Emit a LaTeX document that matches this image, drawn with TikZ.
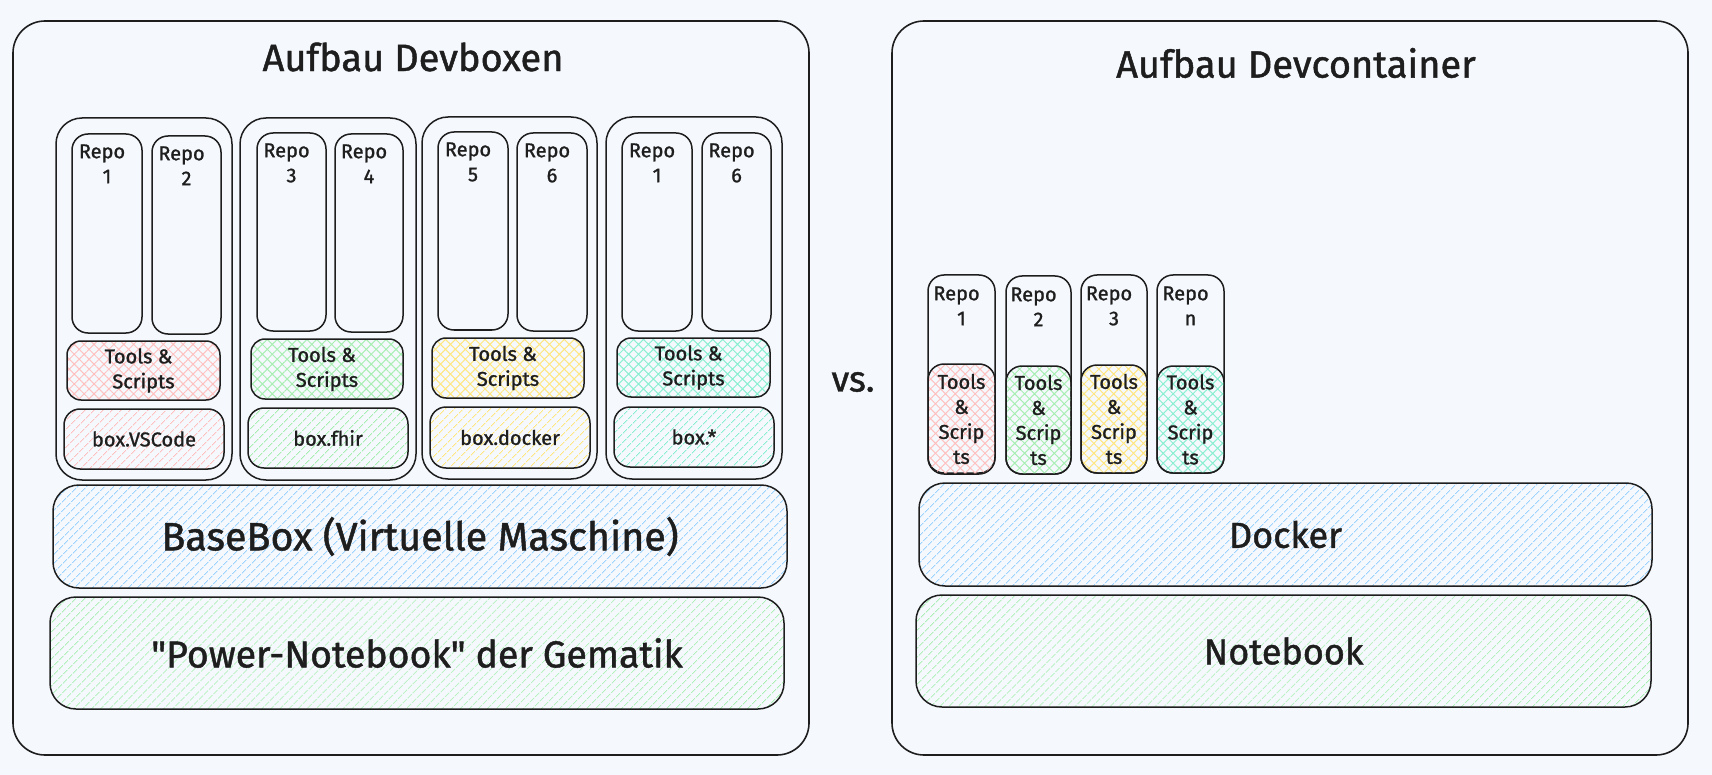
\documentclass[tikz,border=0pt]{standalone}
\usepackage{fontspec}
\setmainfont{Fira Sans}[Ligatures=TeXOff, FakeBold=1.2]
\usetikzlibrary{patterns.meta,fit,calc}
\definecolor{bgc}{HTML}{F5F9FD}
\definecolor{ink}{HTML}{1E1E1E}
\definecolor{hred}{HTML}{FFC0C0}
\definecolor{hgreen}{HTML}{A8EEB2}
\definecolor{hyellow}{HTML}{FFE680}
\definecolor{hteal}{HTML}{8AEFD0}
\definecolor{hblue}{HTML}{9DD3FF}
\tikzset{
  frame/.style={draw=ink, line width=1.6pt, inner sep=0pt, rounded corners=32pt},
  grp/.style={draw=ink, line width=1.5pt, inner sep=0pt, rounded corners=26pt},
  repo/.style={draw=ink, line width=1.5pt, inner sep=0pt, rounded corners=16pt},
  tool/.style={draw=ink, line width=1.5pt, inner sep=0pt, rounded corners=14pt,
    pattern={Hatch[angle=45,distance=7pt,line width=1pt]}, pattern color=#1},
  vbox/.style={draw=ink, line width=1.5pt, inner sep=0pt, rounded corners=16pt,
    pattern={Lines[angle=45,distance=6.5pt,line width=1pt]}, pattern color=#1},
  layer/.style={draw=ink, line width=1.5pt, inner sep=0pt, rounded corners=26pt,
    pattern={Lines[angle=45,distance=6.5pt,line width=1pt]}, pattern color=#1},
  small/.style={text=ink, font=\fontsize{20}{25}\selectfont, align=center, inner sep=0pt},
  big/.style={text=ink, font=\fontsize{#1}{44}\selectfont, inner sep=0pt},
  big/.default=36,
  ttl/.style={text=ink, font=\fontsize{38}{46}\selectfont, inner sep=0pt},
}
\begin{document}
\begin{tikzpicture}[x=1pt,y=-1pt]
\fill[bgc] (0,0) rectangle (1712,775);
\useasboundingbox (0,0) rectangle (1712,775);

% ---------- left frame ----------
\node[frame, fit={(13,21) (809,755)}] (lf) {};
\node[ttl] (lt) at (413,57) {Aufbau Devboxen};

% group 1
\node[grp, fit={(56,118) (232,480)}] (g1) {};
\node[repo, fit={(72,134) (142,333)}] (r11) {};
\node[repo, fit={(152,136) (221,334)}] (r12) {};
\node[tool=hred, fit={(67,341) (220,400)}] (s1) {};
\node[vbox=hred, fit={(64,409) (224,469)}] (b1) {};
\node[small, anchor=north] (tr11) at ($(r11.north)+(0,11)$) {Repo\hspace*{.5em}\\1};
\node[small, anchor=north] (tr12) at ($(r12.north)+(0,11)$) {Repo\hspace*{.5em}\\2};
\node[small] (ts1) at (s1.center) {Tools \&\hspace*{.5em}\\Scripts};
\node[small] (tb1) at (b1.center) {box.VSCode};

% group 2
\node[grp, fit={(240,118) (416,480)}] (g2) {};
\node[repo, fit={(257,133) (326,331)}] (r21) {};
\node[repo, fit={(335,134) (403,332)}] (r22) {};
\node[tool=hgreen, fit={(251,339) (403,399)}] (s2) {};
\node[vbox=hgreen, fit={(248,408) (408,468)}] (b2) {};
\node[small, anchor=north] (tr21) at ($(r21.north)+(0,11)$) {Repo\hspace*{.5em}\\3};
\node[small, anchor=north] (tr22) at ($(r22.north)+(0,11)$) {Repo\hspace*{.5em}\\4};
\node[small] (ts2) at (s2.center) {Tools \&\hspace*{.5em}\\Scripts};
\node[small] (tb2) at (b2.center) {box.fhir};

% group 3
\node[grp, fit={(422,117) (597,479)}] (g3) {};
\node[repo, fit={(438,132) (508,330)}] (r31) {};
\node[repo, fit={(517,133) (587,331)}] (r32) {};
\node[tool=hyellow, fit={(432,338) (584,398)}] (s3) {};
\node[vbox=hyellow, fit={(430,407) (590,468)}] (b3) {};
\node[small, anchor=north] (tr31) at ($(r31.north)+(0,11)$) {Repo\hspace*{.5em}\\5};
\node[small, anchor=north] (tr32) at ($(r32.north)+(0,11)$) {Repo\hspace*{.5em}\\6};
\node[small] (ts3) at (s3.center) {Tools \&\hspace*{.5em}\\Scripts};
\node[small] (tb3) at (b3.center) {box.docker};

% group 4
\node[grp, fit={(606,117) (782,479)}] (g4) {};
\node[repo, fit={(622,133) (692,331)}] (r41) {};
\node[repo, fit={(702,133) (771,331)}] (r42) {};
\node[tool=hteal, fit={(617,338) (770,397)}] (s4) {};
\node[vbox=hteal, fit={(614,407) (774,467)}] (b4) {};
\node[small, anchor=north] (tr41) at ($(r41.north)+(0,11)$) {Repo\hspace*{.5em}\\1};
\node[small, anchor=north] (tr42) at ($(r42.north)+(0,11)$) {Repo\hspace*{.5em}\\6};
\node[small] (ts4) at (s4.center) {Tools \&\hspace*{.5em}\\Scripts};
\node[small] (tb4) at (b4.center) {box.*};

% layers left
\node[layer=hblue, fit={(53,485) (787,588)}] (bb) {};
\node[big=39.5] (tbb) at (bb.center) {BaseBox (Virtuelle Maschine)};
\node[layer=hgreen, fit={(50,597) (784,709)}] (pn) {};
\node[big=37.5] (tpn) at (pn.center) {"Power-Notebook" der Gematik};

% vs.
\node[text=ink, font=\fontsize{36}{40}\selectfont, inner sep=0pt] (vs) at (853,382) {vs.};

% ---------- right frame ----------
\node[frame, fit={(892,21) (1688,755)}] (rf) {};
\node[ttl] (rt) at (1296,63) {Aufbau Devcontainer};

\node[repo, fit={(928,275) (995,473)}] (c1) {};
\node[repo, fit={(1006,276) (1071,474)}] (c2) {};
\node[repo, fit={(1081,275) (1147,473)}] (c3) {};
\node[repo, fit={(1157,275) (1224,473)}] (c4) {};
\node[tool=hred, rounded corners=16pt, fit={(928,364) (995,474)}] (k1) {};
\node[tool=hgreen, rounded corners=16pt, fit={(1006,366) (1071,474)}] (k2) {};
\node[tool=hyellow, rounded corners=16pt, fit={(1081,365) (1147,473)}] (k3) {};
\node[tool=hteal, rounded corners=16pt, fit={(1157,366) (1224,473)}] (k4) {};
\node[small, anchor=north] (tc1) at ($(c1.north)+(0,12)$) {Repo\hspace*{.5em}\\1};
\node[small, anchor=north] (tc2) at ($(c2.north)+(0,12)$) {Repo\hspace*{.5em}\\2};
\node[small, anchor=north] (tc3) at ($(c3.north)+(0,12)$) {Repo\hspace*{.5em}\\3};
\node[small, anchor=north] (tc4) at ($(c4.north)+(0,12)$) {Repo\hspace*{.5em}\\n};
\node[small] (tk1) at (k1.center) {Tools\\\&\\Scrip\\ts};
\node[small] (tk2) at (k2.center) {Tools\\\&\\Scrip\\ts};
\node[small] (tk3) at (k3.center) {Tools\\\&\\Scrip\\ts};
\node[small] (tk4) at (k4.center) {Tools\\\&\\Scrip\\ts};

\node[layer=hblue, fit={(919,483) (1652,586)}] (dk) {};
\node[big] (tdk) at (dk.center) {Docker};
\node[layer=hgreen, fit={(916,595) (1651,707)}] (nb) {};
\node[big] (tnb) at (nb.center) {Notebook};
\end{tikzpicture}
\end{document}
